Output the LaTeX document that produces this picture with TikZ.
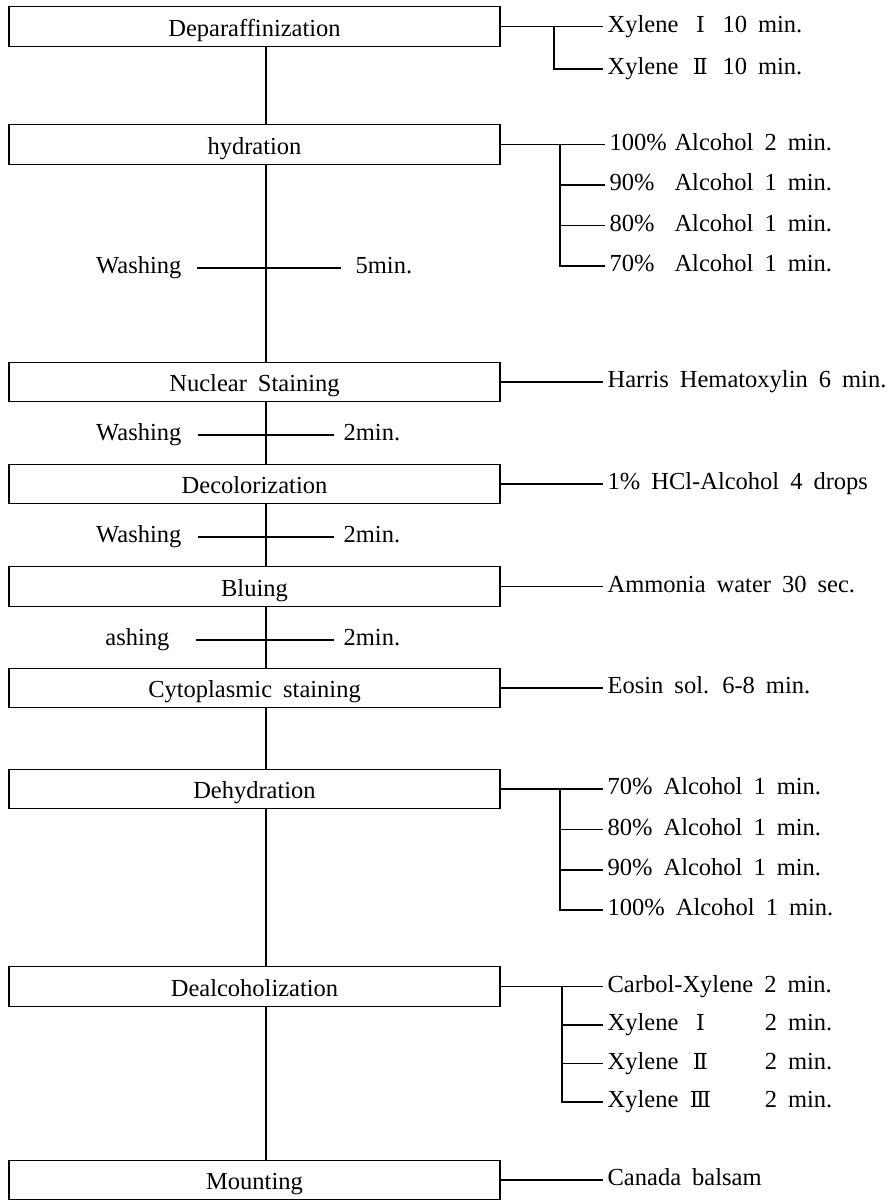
\documentclass[tikz,border=0pt]{standalone}
\usepackage{fontspec}
\setmainfont{Liberation Serif}[WordSpace=1.8]
\newfontfamily\rnfont{DejaVu Serif}[Scale=0.9]
\newcommand{\romnum}[1]{{\rnfont #1}}
\begin{document}
\begin{tikzpicture}[x=1pt,y=-1pt,line width=1.3pt,
  every node/.style={font=\fontsize{24.5}{28}\selectfont},
  stage/.style={draw,minimum width=491pt,minimum height=39.5pt,inner sep=0pt,text height=19pt,text depth=0pt},
  lab/.style={inner sep=0pt,text height=12pt,text depth=1pt},
  tick/.style={shorten >=4pt}]
\useasboundingbox (0,0) rectangle (894,1200);

% stages
\node[stage] (b1) at (254.5,26.5) {Deparaffinization};
\node[stage] (b2) at (254.5,144.5) {hydration};
\node[stage] (b3) at (254.5,382) {Nuclear Staining};
\node[stage] (b4) at (254.5,484) {Decolorization};
\node[stage] (b5) at (254.5,586.5) {Bluing};
\node[stage] (b6) at (254.5,688) {Cytoplasmic staining};
\node[stage] (b7) at (254.5,789) {Dehydration};
\node[stage] (b8) at (254.5,986.5) {Dealcoholization};
\node[stage] (b9) at (254.5,1180) {Mounting};

% main vertical line
\coordinate (v) at (266,0);
\foreach \a/\b in {b1/b2,b2/b3,b3/b4,b4/b5,b5/b6,b6/b7,b7/b8,b8/b9}
  \draw (v |- \a.south) -- (v |- \b.north);

% washing rows
\node[lab,anchor=east] (w1) at (182,268) {Washing};
\node[lab,anchor=west] (m1) at (355,268) {5min.};
\draw ([xshift=15pt]w1.east) -- ([xshift=-14pt]m1.west);
\node[lab,anchor=east] (w2) at (182,435) {Washing};
\node[lab,anchor=west] (m2) at (343,435) {2min.};
\draw ([xshift=16pt]w2.east) -- ([xshift=-9pt]m2.west);
\node[lab,anchor=east] (w3) at (182,537) {Washing};
\node[lab,anchor=west] (m3) at (343,537) {2min.};
\draw ([xshift=16pt]w3.east) -- ([xshift=-9pt]m3.west);
\node[lab,anchor=east] (w4) at (170,640) {ashing};
\node[lab,anchor=west] (m4) at (343,640) {2min.};
\draw ([xshift=26pt]w4.east) -- ([xshift=-9pt]m4.west);

% Deparaffinization
\node[lab,anchor=west] (r1a) at (607,26.5) {Xylene\makebox[1.8em]{\romnum{Ⅰ}}10 min.};
\node[lab,anchor=west] (r1b) at (607,69) {Xylene\makebox[1.8em]{\romnum{Ⅱ}}10 min.};
\coordinate (k1) at (554,26.5);
\draw[tick] (b1.east) -- (r1a.west);
\draw[tick] (k1) |- (r1b.west);

% hydration
\node[lab,anchor=west] (r2a) at (609,144.5) {\makebox[2.65em][l]{100\%}Alcohol 2 min.};
\node[lab,anchor=west] (r2b) at (609,185) {\makebox[2.65em][l]{90\%}Alcohol 1 min.};
\node[lab,anchor=west] (r2c) at (609,225.5) {\makebox[2.65em][l]{80\%}Alcohol 1 min.};
\node[lab,anchor=west] (r2d) at (609,266) {\makebox[2.65em][l]{70\%}Alcohol 1 min.};
\coordinate (k2) at (560,144.5);
\draw[tick] (b2.east) -- (r2a.west);
\draw[tick] (k2 |- r2b.west) -- (r2b.west);
\draw[tick] (k2 |- r2c.west) -- (r2c.west);
\draw[tick] (k2) |- (r2d.west);

% single steps
\node[lab,anchor=west] (r3) at (607,382) {Harris Hematoxylin 6 min.};
\draw[tick] (b3.east) -- (r3.west);
\node[lab,anchor=west] (r4) at (607,484) {1\% HCl-Alcohol 4 drops};
\draw[tick] (b4.east) -- (r4.west);
\node[lab,anchor=west] (r5) at (607,586.5) {Ammonia water 30 sec.};
\draw[tick] (b5.east) -- (r5.west);
\node[lab,anchor=west] (r6) at (607,688) {Eosin sol. 6-8 min.};
\draw[tick] (b6.east) -- (r6.west);

% Dehydration
\node[lab,anchor=west] (r7a) at (607,789) {70\% Alcohol 1 min.};
\node[lab,anchor=west] (r7b) at (607,829.5) {80\% Alcohol 1 min.};
\node[lab,anchor=west] (r7c) at (607,870) {90\% Alcohol 1 min.};
\node[lab,anchor=west] (r7d) at (607,910) {100\% Alcohol 1 min.};
\coordinate (k7) at (560,789);
\draw[tick] (b7.east) -- (r7a.west);
\draw[tick] (k7 |- r7b.west) -- (r7b.west);
\draw[tick] (k7 |- r7c.west) -- (r7c.west);
\draw[tick] (k7) |- (r7d.west);

% Dealcoholization
\node[lab,anchor=west] (r8a) at (607,986.5) {Carbol-Xylene 2 min.};
\node[lab,anchor=west] (r8b) at (607,1025) {Xylene\makebox[1.8em]{\romnum{Ⅰ}}};
\node[lab,anchor=east] (t8b) at (833,1025) {2 min.};
\node[lab,anchor=west] (r8c) at (607,1063.5) {Xylene\makebox[1.8em]{\romnum{Ⅱ}}};
\node[lab,anchor=east] (t8c) at (833,1063.5) {2 min.};
\node[lab,anchor=west] (r8d) at (607,1102) {Xylene\makebox[1.8em]{\romnum{Ⅲ}}};
\node[lab,anchor=east] (t8d) at (833,1102) {2 min.};
\coordinate (k8) at (562,986.5);
\draw[tick] (b8.east) -- (r8a.west);
\draw[tick] (k8 |- r8b.west) -- (r8b.west);
\draw[tick] (k8 |- r8c.west) -- (r8c.west);
\draw[tick] (k8) |- (r8d.west);

% Mounting
\node[lab,anchor=west] (r9) at (607,1180) {Canada balsam};
\draw[tick] (b9.east) -- (r9.west);
\end{tikzpicture}
\end{document}
